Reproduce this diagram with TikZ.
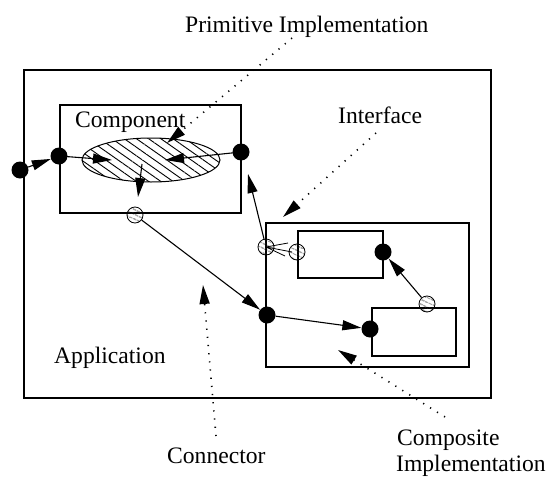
\documentclass[tikz,border=0pt]{standalone}
\usepackage{fontspec}
\setmainfont{Liberation Serif}
\usetikzlibrary{arrows.meta,patterns.meta,shapes.geometric}
\begin{document}
\begin{tikzpicture}[x=1pt,y=-1pt,
  box/.style={draw,line width=1.3pt,inner sep=0pt},
  dot/.style={circle,fill=black,inner sep=0pt,minimum size=17pt},
  hdot/.style={circle,draw,line width=0.8pt,inner sep=0pt,minimum size=16pt,
    pattern={Lines[angle=-25,distance=4pt,line width=0.8pt]}},
  arr/.style={line width=1.1pt,-{Triangle[length=19pt,width=10pt]}},
  ptr/.style={line width=1.6pt,dash pattern=on 1.2pt off 7pt,-{Triangle[length=19pt,width=10pt]}},
  lbl/.style={font=\fontsize{23.6}{26}\selectfont,inner sep=0pt,anchor=base west}]
\useasboundingbox (0,0) rectangle (551,479);
% boxes
\node[box,minimum width=467pt,minimum height=328pt] (app) at (257.5,234) {};
\node[box,minimum width=181pt,minimum height=108pt] (comp) at (150.5,159) {};
\node[box,minimum width=203pt,minimum height=144pt] (cimpl) at (367.5,295) {};
\node[box,minimum width=85pt,minimum height=47pt] (sub1) at (340.5,254.5) {};
\node[box,minimum width=84pt,minimum height=48pt] (sub2) at (414,332) {};
% primitive implementation (hatched ellipse)
\node[ellipse,draw,line width=1pt,minimum width=138pt,minimum height=44pt,inner sep=0pt,
  pattern={Lines[angle=-35,distance=7pt,line width=0.9pt]}] (prim) at (151,160) {};
% labels
\node[lbl] (tprim) at (185,32) {Primitive Implementation};
\node[lbl] (tcomp) at (75,127) {Component};
\node[lbl] (tint) at (338,123) {Interface};
\node[lbl] (tapp) at (54,363) {Application};
\node[lbl] (tconn) at (167,463) {Connector};
\node[lbl] (tcomp1) at (397,445) {Composite};
\node[lbl] (tcomp2) at (396,471) {Implementation};
% coordinates
\coordinate (a1) at (112,160);
\coordinate (a2) at (165,160);
\coordinate (a3s) at (142,164);
\coordinate (a3e) at (138,197);
\coordinate (a4) at (248,174);
\coordinate (f1) at (288,243);
\coordinate (f2) at (292,252);
\coordinate (f3) at (285,256);
\coordinate (p1s) at (292,38);
\coordinate (p1e) at (167,143);
\coordinate (p2s) at (376,133);
\coordinate (p2e) at (283,217);
\coordinate (p3s) at (216,436);
\coordinate (p3e) at (203,285);
\coordinate (p4s) at (445,417);
\coordinate (p4e) at (338,350);
% ports
\node[dot] (d0) at (20,170) {};
\node[dot] (d1) at (59,156) {};
\node[dot] (d2) at (241,152) {};
\node[dot] (d3) at (383,252) {};
\node[dot] (d4) at (267,315) {};
\node[dot] (d5) at (370,329) {};
\node[hdot] (hc1) at (135,215) {};
\node[hdot] (hc2) at (266,247) {};
\node[hdot] (hc3) at (297,252) {};
\node[hdot] (hc4) at (427,304) {};
% connectors
\draw[arr] (d0) -- (d1);
\draw[arr] (d1.center) -- (a1);
\draw[arr] (d2.center) -- (a2);
\draw[arr] (a3s) -- (a3e);
\draw[arr] (hc1) -- (d4);
\draw[arr] (hc2) -- (a4);
\draw[arr] (hc4) -- (d3);
\draw[arr] (d4) -- (d5);
\draw[line width=0.8pt] (hc2.center) -- (f1) (hc2.center) -- (f2) (hc2.center) -- (f3);
% pointers
\draw[ptr] (p1s) -- (p1e);
\draw[ptr] (p2s) -- (p2e);
\draw[ptr] (p3s) -- (p3e);
\draw[ptr] (p4s) -- (p4e);
\end{tikzpicture}
\end{document}
